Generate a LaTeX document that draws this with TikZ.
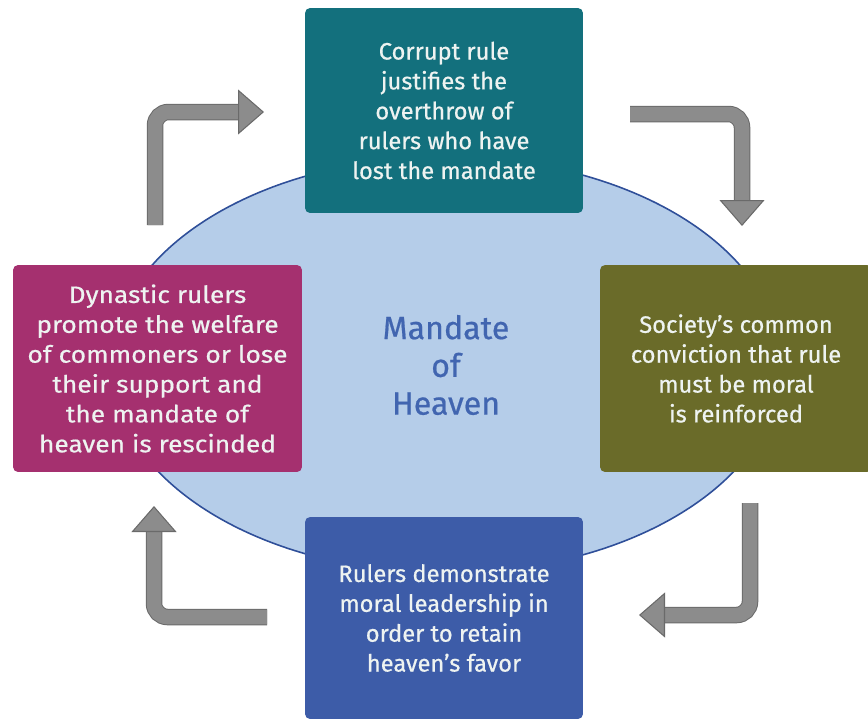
\documentclass[tikz,border=0pt]{standalone}
\usepackage{fontspec}
\setmainfont{Fira Sans}[FakeBold=0.6]
\newfontfamily\widefont{Fira Sans}[FakeBold=0.6, FakeStretch=1.11]
\usepackage{xcolor}
\usepackage{tikz}
\usetikzlibrary{positioning,arrows.meta,shapes.geometric}

\definecolor{rulteal}{HTML}{13707D}
\definecolor{rulmagenta}{HTML}{A5306F}
\definecolor{ruloive}{HTML}{6A6B29}
\definecolor{rulblue}{HTML}{3D5CA8}
\definecolor{heavenfill}{HTML}{B5CDE9}
\definecolor{heavenline}{HTML}{2F4F99}
\definecolor{heaventext}{HTML}{4165B0}
\definecolor{arrowfill}{HTML}{8C8C8C}
\definecolor{arrowline}{HTML}{6A6A6A}
\definecolor{boxtext}{HTML}{EEF3F1}

\begin{document}
\begin{tikzpicture}[x=0.02cm, y=-0.02cm,
  stepbox/.style={rectangle, rounded corners=0.1cm, inner sep=0pt, align=center,
    text=boxtext, font=\fontsize{13.5}{17}\selectfont},
  arrowedge/.style={draw=arrowline, line width=0.33cm, rounded corners=0.27cm,
    shorten >=0.45cm},
  arrowbody/.style={draw=arrowfill, line width=0.29cm, rounded corners=0.27cm,
    -{Triangle[length=0.52cm, width=0.9cm, line width=0.6pt, color=arrowline, fill=arrowfill]}}]
  \useasboundingbox (0,0) rectangle (868,721);
  \node[ellipse, draw=heavenline, line width=0.9pt, fill=heavenfill, inner sep=0pt,
        minimum width=13.4cm, minimum height=8.32cm, align=center, text=heaventext,
        font=\fontsize{18.3}{21.5}\selectfont] (heaven) at (446,365) {Mandate\\of\\Heaven};
  \node[stepbox, fill=rulteal, minimum width=5.56cm, minimum height=4.1cm]
        (overthrow) at (444,110.5)
        {Corrupt rule\\justifies the\\overthrow of\\rulers who have\\lost the mandate};
  \node[stepbox, fill=ruloive, minimum width=5.44cm, minimum height=4.14cm]
        (conviction) at (736,368.5)
        {Society’s common\\conviction that rule\\must be moral\\is reinforced};
  \node[stepbox, fill=rulblue, minimum width=5.56cm, minimum height=4.04cm]
        (leadership) at (444,618)
        {Rulers demonstrate\\moral leadership in\\order to retain\\heaven’s favor};
  \node[stepbox, fill=rulmagenta, minimum width=5.78cm, minimum height=4.14cm,
        font=\widefont\fontsize{13.5}{17}\selectfont]
        (welfare) at (157.5,368.5)
        {Dynastic rulers\\promote the welfare\\of commoners or lose\\their support and\\the mandate of\\heaven is rescinded};
  \coordinate (s1) at (155,225);  \coordinate (c1) at (155,112);  \coordinate (t1) at (264,112);
  \coordinate (s2) at (630,114);  \coordinate (c2) at (742,114);  \coordinate (t2) at (742,226);
  \coordinate (s3) at (750,503);  \coordinate (c3) at (750,615);  \coordinate (t3) at (639,615);
  \coordinate (s4) at (267,617);  \coordinate (c4) at (154,617);  \coordinate (t4) at (154,506);
  \foreach \k in {1,...,4}{
    \draw[arrowedge] (s\k) -- (c\k) -- (t\k);
    \draw[arrowbody] (s\k) -- (c\k) -- (t\k);
  }
\end{tikzpicture}
\end{document}
